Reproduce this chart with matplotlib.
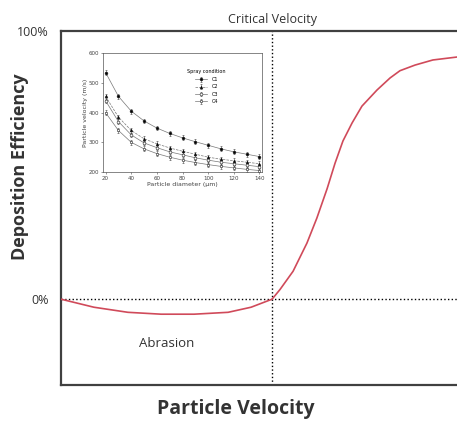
import matplotlib.pyplot as plt
import numpy as np

# main curve (velocity as fraction of axis width)
velocidade = [0.0, 0.083, 0.169, 0.253, 0.336, 0.422, 0.480, 0.533, 0.553, 0.586,
              0.621, 0.646, 0.672, 0.692, 0.712, 0.735, 0.760, 0.798, 0.831, 0.856,
              0.894, 0.939, 1.0]
eficiencia = [0.0, -0.030, -0.049, -0.056, -0.056, -0.049, -0.030, 0.0, 0.036, 0.104,
              0.209, 0.302, 0.412, 0.507, 0.590, 0.657, 0.720, 0.780, 0.825, 0.852,
              0.873, 0.892, 0.903]
v_critica = 0.533

# inset data
diametro = [20, 30, 40, 50, 60, 70, 80, 90, 100, 110, 120, 130, 140]
vel_c1 = [535, 455, 405, 372, 348, 330, 315, 302, 290, 278, 268, 260, 252]
vel_c2 = [455, 385, 340, 312, 295, 281, 270, 260, 250, 243, 238, 233, 228]
vel_c3 = [440, 370, 325, 298, 282, 268, 258, 248, 240, 233, 228, 223, 218]
vel_c4 = [400, 340, 300, 278, 262, 250, 240, 232, 225, 219, 214, 209, 205]
condicoes = ["C1", "C2", "C3", "C4"]

cor_texto = "#333333"
cor_borda = "#404040"

fig = plt.figure(figsize=(4.57, 4.29), dpi=100)
ax = fig.add_axes([0.1335, 0.1026, 0.8665, 0.8251])

ax.plot(velocidade, eficiencia, color="#d04a5a", linewidth=1.2, zorder=3,
        solid_joinstyle="round")
ax.axhline(0, color="black", linestyle=":", linewidth=1.0)
ax.axvline(v_critica, color="black", linestyle=":", linewidth=1.0)

ax.set_xlim(0, 1)
ax.set_ylim(-0.32, 1.0)
ax.set_xticks([])
ax.set_yticks([0, 1.0])
ax.set_yticklabels(["0%", "100%"], fontsize=9, color=cor_texto, family="Open Sans")
ax.tick_params(axis="y", length=0, pad=9)
for lado in ["left", "top", "bottom"]:
    ax.spines[lado].set_color(cor_borda)
    ax.spines[lado].set_linewidth(1.6)
ax.spines["right"].set_visible(False)

fig.text(0.516, 0.023, "Particle Velocity", ha="center", va="bottom", fontsize=14,
         fontweight="bold", color=cor_texto, family="Open Sans")
fig.text(0.044, 0.611, "Deposition Efficiency", ha="center", va="center", rotation=90,
         fontsize=13, fontweight="bold", color=cor_texto, family="Open Sans")
ax.text(v_critica, 1.02, "Critical Velocity", ha="center", va="bottom", fontsize=9,
        color=cor_texto, family="Open Sans")
ax.text(0.268, -0.165, "Abrasion", ha="center", va="center", fontsize=9.5,
        color=cor_texto, family="Open Sans")

# inset
ins = fig.add_axes([0.2254, 0.599, 0.348, 0.277])
estilos = [("o", "black", "-"), ("^", "black", "--"), ("o", "white", "-"), ("s", "white", "-")]
for serie, nome, (mk, face, ls) in zip([vel_c1, vel_c2, vel_c3, vel_c4], condicoes, estilos):
    ins.errorbar(diametro, serie, yerr=8, color="#777777", linestyle=ls, linewidth=0.5,
                 marker=mk, markersize=2, markerfacecolor=face, markeredgecolor="#222222",
                 markeredgewidth=0.4, elinewidth=0.4, ecolor="#444444", capsize=1, label=nome)
ins.set_xlim(18, 142)
ins.set_ylim(200, 600)
ins.set_xticks([20, 40, 60, 80, 100, 120, 140])
ins.set_yticks([200, 300, 400, 500, 600])
ins.tick_params(labelsize=4, length=1.5, width=0.4, pad=1, colors="#444444")
for s in ins.spines.values():
    s.set_linewidth(0.5)
    s.set_color("#555555")
ins.set_xlabel("Particle diameter (μm)", fontsize=4.5, labelpad=1, color="#444444")
ins.set_ylabel("Particle velocity (m/s)", fontsize=4.5, labelpad=1, color="#444444")
ins.legend(title="Spray condition", fontsize=3.5, title_fontsize=3.5, frameon=False,
           loc="upper right", bbox_to_anchor=(0.80, 0.90), handlelength=2.5,
           labelspacing=0.5)

fig.savefig("out.png", dpi=100)
